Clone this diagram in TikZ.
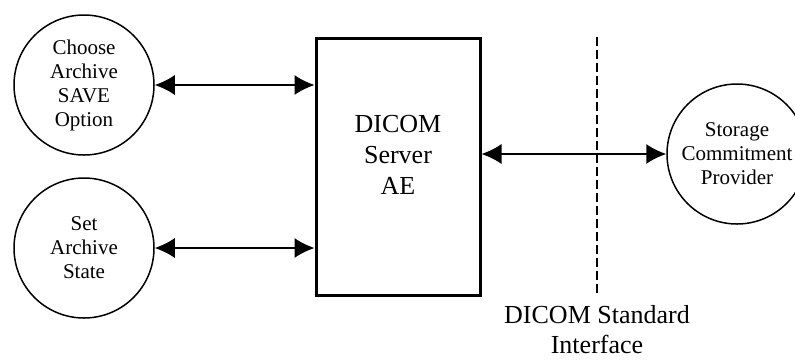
\documentclass[tikz,border=0pt]{standalone}
\usepackage{fontspec}
\setmainfont{Liberation Serif}
\usepackage{tikz}
\usetikzlibrary{shapes,calc,positioning,arrows.meta}

\begin{document}
\begin{tikzpicture}[x=1pt, y=-1pt]
\tikzstyle{ae}=[draw,circle,line width=1.5pt,minimum size=140pt,inner sep=0pt,align=center,font=\fontsize{21}{24}\selectfont]
\tikzstyle{srvbox}=[draw,rectangle,line width=3pt,minimum width=164pt,minimum height=257pt,inner sep=0pt]
\tikzstyle{biarrow}=[{Latex[length=20pt,width=20pt]}-{Latex[length=20pt,width=20pt]},line width=1.5pt]
\useasboundingbox (0,0) rectangle (795,360);
\node[ae] (choose) at (84,85) {Choose\\Archive\\SAVE\\Option};
\node[ae] (setstate) at (84,248) {Set\\Archive\\State};
\node[ae] (store) at (737,154) {Storage\\Commitment\\Provider};
\node[srvbox] (srv) at (398,166.5) {};
\node[align=center,font=\fontsize{26}{31}\selectfont] (srvtext) at ([yshift=12pt]srv.center) {DICOM\\Server\\AE};
\draw[biarrow] (choose.east) -- (choose.east -| srv.west);
\draw[biarrow] (setstate.east) -- (setstate.east -| srv.west);
\draw[biarrow] (store.west -| srv.east) -- (store.west);
% interface boundary
\coordinate (dtop) at (597,37);
\coordinate (dbot) at (597,295);
\draw[line width=1.5pt,dash pattern=on 9pt off 4pt] (dtop) -- (dbot);
\node[align=center,font=\fontsize{26}{30}\selectfont] (iface) at (597,330) {DICOM Standard\\Interface};
\end{tikzpicture}
\end{document}
